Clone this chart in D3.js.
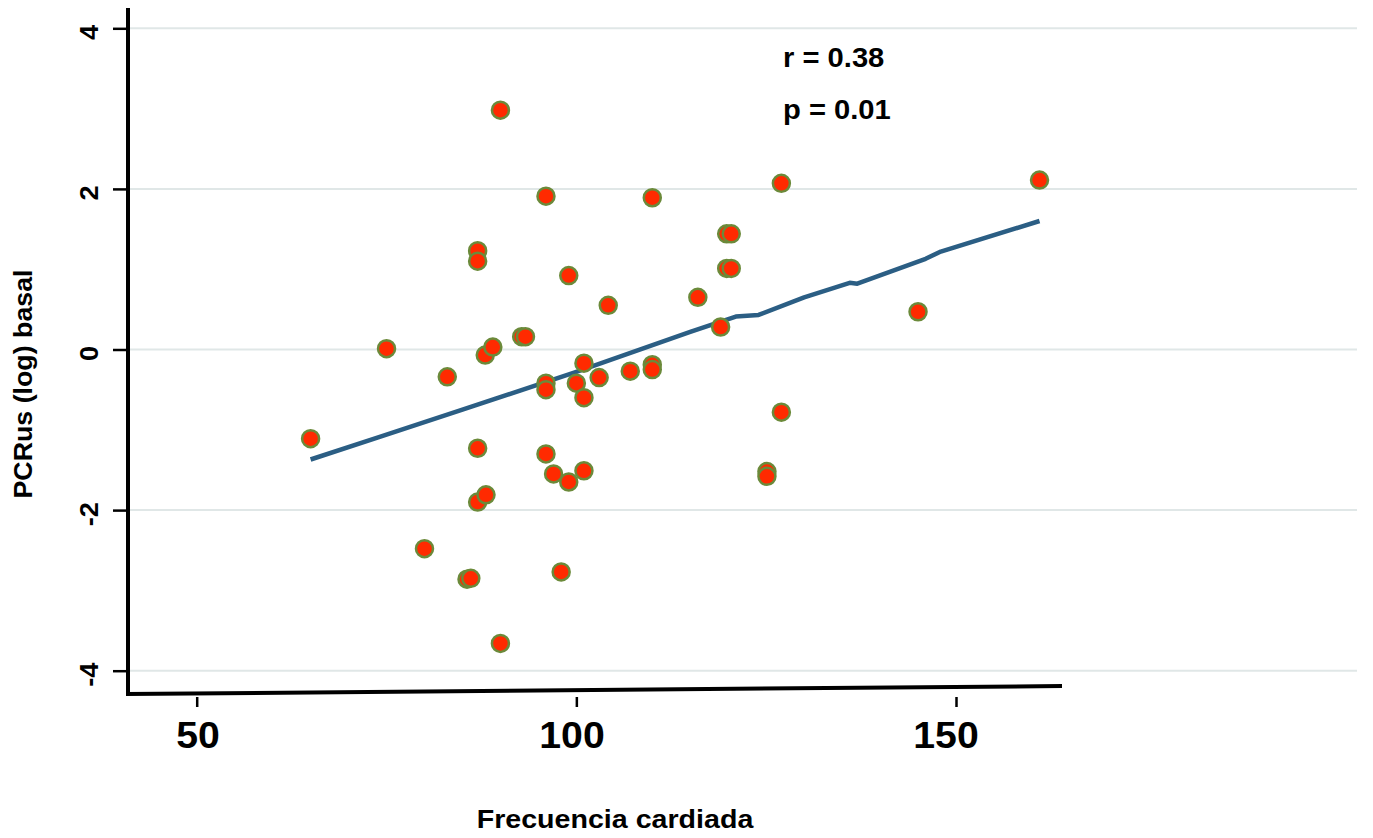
<!DOCTYPE html>
<html>
<head>
<meta charset="utf-8">
<script src="https://cdn.jsdelivr.net/npm/d3@7"></script>
<style>
  body { margin: 0; background: #fff; }
  text { font-family: "Liberation Sans", Arial, sans-serif; font-weight: bold; }
</style>
</head>
<body>
<div id="chart"></div>
<script>
// frecuencia cardiada vs PCRus (log) basal
var frecuencia = [65, 75, 83, 80, 85.6, 86.1, 87, 87, 87, 87, 88.1, 88, 89, 90, 90,
                  92.8, 93.3, 96, 96, 96, 96, 97, 99, 101, 99, 98, 101, 100, 101, 103,
                  104.2, 107.1, 110, 110, 110, 116, 119, 119.8, 120.4, 119.8, 120.4,
                  127, 127, 125.1, 125.1, 145, 161];
var pcrus = [-1.11, 0.01, -0.34, -2.48, -2.86, -2.85, 1.23, 1.10, -1.23, -1.90, -1.81, -0.07, 0.03, 2.98, -3.66,
             0.16, 0.16, 1.91, -0.42, -0.50, -1.30, -1.55, -1.65, -1.51, 0.92, -2.77, -0.17, -0.42, -0.60, -0.35,
             0.55, -0.27, 1.89, -0.19, -0.25, 0.65, 0.28, 1.44, 1.44, 1.01, 1.01,
             2.07, -0.78, -1.52, -1.58, 0.47, 2.11];

// fitted values
var fitX = [65, 74, 85, 100, 115, 121, 124, 130, 136, 137, 146, 148, 161];
var fitY = [-1.37, -1.09, -0.75, -0.28, 0.22, 0.41, 0.43, 0.65, 0.83, 0.82, 1.13, 1.22, 1.60];

var xTicks = [50, 100, 150];
var yTicks = [-4, -2, 0, 2, 4];
var stats = ["r = 0.38", "p = 0.01"];

var w = 1373;
var h = 838;

var points = frecuencia.map(function(d, i) { return { x: d, y: pcrus[i] }; });
var fit = fitX.map(function(d, i) { return { x: d, y: fitY[i] }; });

var svg = d3.select("#chart")
    .append("svg")
    .attr("width", w)
    .attr("height", h);

var xScale = d3.scaleLinear()
    .domain([50, 150])
    .range([196.7, 956]);

// tick labels sit a little off the ticks in the original
var xLabelScale = d3.scaleLinear()
    .domain([50, 150])
    .range([198, 946]);

var yScale = d3.scaleLinear()
    .domain([-4, 4])
    .range([670.7, 28.3]);

var plotLeft = 128;
var plotRight = 1357;

// gridlines
svg.append("g")
    .selectAll("line")
    .data(yTicks)
    .enter()
    .append("line")
    .attr("x1", plotLeft)
    .attr("x2", plotRight)
    .attr("y1", function(d) { return yScale(d); })
    .attr("y2", function(d) { return yScale(d); })
    .style("stroke", "#e0e7e7")
    .style("stroke-width", 2);

// y axis
var yAxis = svg.append("g")
    .attr("transform", "translate(" + plotLeft + ",0)")
    .call(d3.axisLeft(yScale).tickValues(yTicks).tickSize(15).tickFormat(""));
yAxis.select(".domain").remove();
yAxis.selectAll(".tick line").style("stroke", "#000").style("stroke-width", 2.5);

svg.append("line")
    .attr("x1", plotLeft)
    .attr("x2", plotLeft)
    .attr("y1", 8)
    .attr("y2", 695)
    .style("stroke", "#000")
    .style("stroke-width", 4);

// y tick labels (rotated)
svg.append("g")
    .selectAll("text")
    .data(yTicks)
    .enter()
    .append("text")
    .attr("transform", function(d) { return "translate(98," + (yScale(d) + 4) + ")rotate(-90)scale(1.05,1)"; })
    .attr("text-anchor", "middle")
    .style("font-size", "26px")
    .text(function(d) { return d; });

// x axis
var xAxis = svg.append("g")
    .attr("transform", "translate(0,697)")
    .call(d3.axisBottom(xScale).tickValues(xTicks).tickSize(10).tickFormat(""));
xAxis.select(".domain").remove();
xAxis.selectAll(".tick line").style("stroke", "#000").style("stroke-width", 2.5);

// slanted baseline
svg.append("line")
    .attr("x1", plotLeft - 2)
    .attr("x2", 1062)
    .attr("y1", 694)
    .attr("y2", 686)
    .style("stroke", "#000")
    .style("stroke-width", 4);

svg.append("g")
    .selectAll("text")
    .data(xTicks)
    .enter()
    .append("text")
    .attr("transform", function(d) { return "translate(" + xLabelScale(d) + ",748)scale(1.06,1)"; })
    .attr("text-anchor", "middle")
    .style("font-size", "37px")
    .text(function(d) { return d; });

// axis titles
svg.append("text")
    .attr("transform", "translate(615,828)scale(1.1,1)")
    .attr("text-anchor", "middle")
    .style("font-size", "26px")
    .text("Frecuencia cardiada");

svg.append("text")
    .attr("transform", "translate(32,384)rotate(-90)scale(1.03,1)")
    .attr("text-anchor", "middle")
    .style("font-size", "26px")
    .text("PCRus (log) basal");

// fit line
var line = d3.line()
    .x(function(d) { return xScale(d.x); })
    .y(function(d) { return yScale(d.y); });

svg.append("path")
    .datum(fit)
    .attr("d", line)
    .style("fill", "none")
    .style("stroke", "#2b5e84")
    .style("stroke-width", 4.5)
    .style("stroke-linejoin", "round");

// data points
svg.append("g")
    .selectAll("circle")
    .data(points)
    .enter()
    .append("circle")
    .attr("cx", function(d) { return xScale(d.x); })
    .attr("cy", function(d) { return yScale(d.y); })
    .attr("r", 8.5)
    .style("fill", "#ff2a00")
    .style("stroke", "#6b8a3a")
    .style("stroke-width", 2.5);

// r and p
svg.append("g")
    .selectAll("text")
    .data(stats)
    .enter()
    .append("text")
    .attr("transform", function(d, i) { return "translate(783," + (67 + i * 52) + ")scale(1.08,1)"; })
    .style("font-size", "27px")
    .text(function(d) { return d; });
</script>
</body>
</html>
